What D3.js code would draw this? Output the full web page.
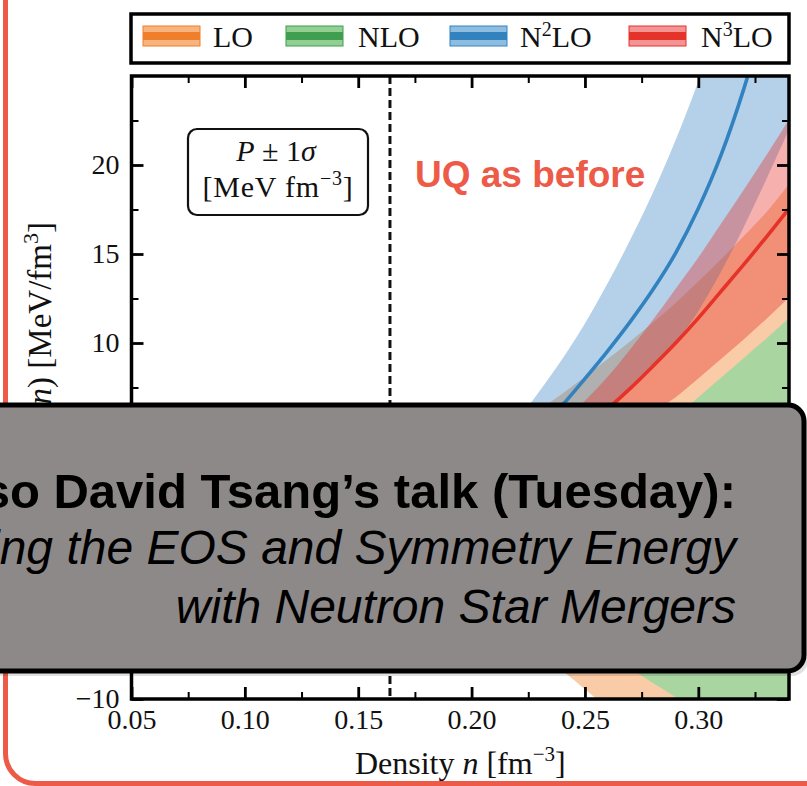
<!DOCTYPE html>
<html><head><meta charset="utf-8">
<script src="https://cdn.jsdelivr.net/npm/d3@7"></script>
<style>body{margin:0;background:#fff;} svg{display:block;}</style>
</head><body>
<svg id="chart" width="807" height="786"></svg>
<script>
// ---- data ----
const density = [0.05,0.06,0.07,0.08,0.09,0.10,0.11,0.12,0.13,0.14,0.15,0.16,0.17,0.18,0.19,0.20,0.21,0.22,0.23,0.24,0.25,0.26,0.27,0.28,0.29,0.30,0.31,0.32,0.33,0.34];
const loLower = [-0.22,-0.3,-0.38,-0.47,-0.55,-0.62,-0.7,-0.8,-0.95,-1.15,-1.45,-1.85,-2.35,-2.95,-3.65,-4.45,-5.35,-6.3,-7.35,-8.4,-9.45,-10.55,-11.7,-12.9,-14.1,-15.4,-16.7,-18.0,-19.4,-20.8];
const loMean  = [-0.16,-0.22,-0.28,-0.35,-0.4,-0.44,-0.45,-0.45,-0.43,-0.38,-0.35,-0.33,-0.3,-0.3,-0.33,-0.38,-0.43,-0.48,-0.55,-0.63,-0.68,-0.73,-0.8,-0.88,-0.93,-0.98,-1.0,-1.0,-1.03,-0.93];
const loUpper = [-0.1,-0.13,-0.18,-0.22,-0.25,-0.25,-0.2,-0.1,0.1,0.4,0.75,1.2,1.75,2.35,3.0,3.7,4.5,5.35,6.25,7.15,8.1,9.1,10.1,11.15,12.25,13.45,14.7,16.0,17.35,18.95];
const nloLower = [-0.3,-0.42,-0.55,-0.7,-0.85,-1.0,-1.15,-1.35,-1.55,-1.8,-2.05,-2.35,-2.7,-3.1,-3.5,-3.95,-4.45,-5.0,-5.6,-6.2,-6.85,-7.55,-8.3,-9.1,-9.9,-10.75,-11.6,-12.5,-13.4,-14.3];
const nloMean  = [-0.2,-0.28,-0.36,-0.46,-0.56,-0.65,-0.75,-0.87,-0.99,-1.13,-1.25,-1.4,-1.55,-1.7,-1.83,-1.95,-2.05,-2.15,-2.23,-2.25,-2.25,-2.23,-2.18,-2.13,-2.03,-1.9,-1.78,-1.68,-1.58,-1.45];
const nloUpper = [-0.1,-0.14,-0.18,-0.22,-0.26,-0.3,-0.34,-0.38,-0.42,-0.45,-0.45,-0.45,-0.4,-0.3,-0.15,0.05,0.35,0.7,1.15,1.7,2.35,3.1,3.95,4.85,5.85,6.95,8.05,9.15,10.25,11.4];
const n2loLower = [-0.3,-0.38,-0.47,-0.55,-0.62,-0.67,-0.69,-0.67,-0.62,-0.52,-0.35,-0.15,0.15,0.5,0.95,1.5,2.1,2.8,3.6,4.4,5.3,6.3,7.4,8.6,10.0,11.8,14.0,16.5,19.2,22.0];
const n2loMean  = [-0.25,-0.32,-0.4,-0.47,-0.53,-0.57,-0.58,-0.55,-0.48,-0.35,-0.15,0.1,0.45,0.9,1.45,2.15,3.0,4.0,5.15,6.5,8.0,9.55,11.2,13.0,15.05,17.55,20.55,24.25,28.65,33.65];
const n2loUpper = [-0.2,-0.26,-0.33,-0.39,-0.44,-0.47,-0.47,-0.43,-0.34,-0.18,0.05,0.35,0.75,1.3,1.95,2.85,4.1,5.6,7.3,9.1,11.1,13.35,15.8,18.45,21.4,24.7,28.5,32.5,37.0,42.0];
const n3loLower = [-0.32,-0.41,-0.51,-0.6,-0.67,-0.72,-0.75,-0.74,-0.68,-0.58,-0.43,-0.3,-0.15,0.1,0.4,0.8,1.2,1.7,2.3,3.0,3.75,4.5,5.25,6.1,6.95,8.0,9.1,10.2,11.35,12.55];
const n3loMean  = [-0.27,-0.35,-0.44,-0.52,-0.58,-0.62,-0.63,-0.6,-0.52,-0.4,-0.22,0.0,0.25,0.6,1.0,1.5,2.05,2.7,3.45,4.3,5.25,6.3,7.45,8.7,10.0,11.4,12.9,14.4,15.95,17.55];
const n3loUpper = [-0.22,-0.29,-0.37,-0.44,-0.49,-0.52,-0.51,-0.46,-0.36,-0.22,-0.01,0.3,0.65,1.1,1.6,2.2,2.9,3.7,4.6,5.6,6.75,8.1,9.65,11.3,13.05,14.8,16.7,18.6,20.55,22.55];
const saturationDensity = 0.164;
const xMajorTicks = [0.05,0.10,0.15,0.20,0.25,0.30];
const xMinorTicks = [0.075,0.125,0.175,0.225,0.275,0.325];
const yMajorTicks = [-10,-5,0,5,10,15,20];
const yMinorTicks = [-7.5,-2.5,2.5,7.5,12.5,17.5,22.5];
const orderNames = ["LO","NLO","N2LO","N3LO"];

// ---- styles ----
const lineColors  = {LO:"#ef7f2a", NLO:"#3f9e4f", N2LO:"#3282c0", N3LO:"#e5332a"};
const bandFill    = {LO:"#f9cba7", NLO:"#a9d5a1", N2LO:"#2f7fc1", N3LO:"#e8302a"};
const bandOpacity = {LO:1, NLO:1, N2LO:0.36, N3LO:0.38};
const patchLight  = {LO:"#f8b47e", NLO:"#93cf93", N2LO:"#8fbde0", N3LO:"#f39393"};
const series = {
  LO:{lo:loLower, mid:loMean, hi:loUpper},
  NLO:{lo:nloLower, mid:nloMean, hi:nloUpper},
  N2LO:{lo:n2loLower, mid:n2loMean, hi:n2loUpper},
  N3LO:{lo:n3loLower, mid:n3loMean, hi:n3loUpper}
};

const svg = d3.select("#chart");
const L = 131.5, R = 789, T = 76, B = 699;
const x = d3.scaleLinear().domain([0.05,0.34]).range([L,R]);
const y = d3.scaleLinear().domain([-10,25]).range([B,T]);
const serif = "'Liberation Serif','Times New Roman',serif";
const sans = "'Liberation Sans',Arial,sans-serif";

// page frame
svg.append("rect").attr("x",5.5).attr("y",-60).attr("width",900).attr("height",843.5)
  .attr("rx",30).attr("fill","none").attr("stroke","#ee5a48").attr("stroke-width",5);

// legend
const lg = svg.append("g");
lg.append("rect").attr("x",131).attr("y",14).attr("width",658).attr("height",49)
  .attr("fill","#fff").attr("stroke","#000").attr("stroke-width",3.5);
const patchX = [143,286,450,629];
const textX = [213,358,520,701];
orderNames.forEach((k,i)=>{
  lg.append("rect").attr("x",patchX[i]).attr("y",26).attr("width",57).attr("height",20)
    .attr("fill",patchLight[k]).attr("stroke",lineColors[k]).attr("stroke-width",1);
  lg.append("rect").attr("x",patchX[i]).attr("y",32).attr("width",57).attr("height",8)
    .attr("fill",lineColors[k]);
  const t = lg.append("text").attr("x",textX[i]).attr("y",47)
    .attr("font-family",serif).attr("font-size",30).attr("fill","#111");
  if (k==="N2LO"||k==="N3LO"){
    t.append("tspan").text("N");
    t.append("tspan").attr("dy",-11).attr("font-size",20).text(k==="N2LO"?"2":"3");
    t.append("tspan").attr("dy",11).text("LO");
  } else t.text(k);
});

// plot area
svg.append("rect").attr("x",L).attr("y",T).attr("width",R-L).attr("height",B-T).attr("fill","#fff");
svg.append("clipPath").attr("id","clip").append("rect")
  .attr("x",L).attr("y",T).attr("width",R-L).attr("height",B-T);
const plot = svg.append("g").attr("clip-path","url(#clip)");

orderNames.forEach(k=>{
  const s = series[k];
  const area = d3.area().curve(d3.curveMonotoneX)
    .x((d,i)=>x(density[i])).y0((d,i)=>y(s.lo[i])).y1((d,i)=>y(s.hi[i]));
  plot.append("path").datum(density).attr("d",area)
    .attr("fill",bandFill[k]).attr("fill-opacity",bandOpacity[k]);
});
orderNames.forEach(k=>{
  const s = series[k];
  const line = d3.line().curve(d3.curveMonotoneX)
    .x((d,i)=>x(density[i])).y((d,i)=>y(s.mid[i]));
  plot.append("path").datum(density).attr("d",line)
    .attr("fill","none").attr("stroke",lineColors[k]).attr("stroke-width",3.6);
});
// saturation density
plot.append("line").attr("x1",x(saturationDensity)).attr("x2",x(saturationDensity))
  .attr("y1",T).attr("y2",B).attr("stroke","#111").attr("stroke-width",3)
  .attr("stroke-dasharray","8,4");

// axes
function styleAxis(g, w){ g.select(".domain").remove(); g.selectAll(".tick line").attr("stroke","#000").attr("stroke-width",w); }
const gx = svg.append("g").attr("transform",`translate(0,${B})`)
  .call(d3.axisBottom(x).tickValues(xMajorTicks).tickSize(-12).tickPadding(10).tickFormat(d3.format(".2f")));
styleAxis(gx,2.8);
gx.selectAll("text").attr("font-family",serif).attr("font-size",28).attr("fill","#111");
styleAxis(svg.append("g").attr("transform",`translate(0,${B})`)
  .call(d3.axisBottom(x).tickValues(xMinorTicks).tickSize(-7).tickFormat("")),2);
styleAxis(svg.append("g").attr("transform",`translate(0,${T})`)
  .call(d3.axisTop(x).tickValues(xMajorTicks).tickSize(-12).tickFormat("")),2.8);
styleAxis(svg.append("g").attr("transform",`translate(0,${T})`)
  .call(d3.axisTop(x).tickValues(xMinorTicks).tickSize(-7).tickFormat("")),2);
const gy = svg.append("g").attr("transform",`translate(${L},0)`)
  .call(d3.axisLeft(y).tickValues(yMajorTicks).tickSize(-12).tickPadding(12).tickFormat(d3.format("d")));
styleAxis(gy,2.8);
gy.selectAll("text").attr("font-family",serif).attr("font-size",28).attr("fill","#111");
styleAxis(svg.append("g").attr("transform",`translate(${L},0)`)
  .call(d3.axisLeft(y).tickValues(yMinorTicks).tickSize(-7).tickFormat("")),2);
styleAxis(svg.append("g").attr("transform",`translate(${R},0)`)
  .call(d3.axisRight(y).tickValues(yMajorTicks).tickSize(-12).tickFormat("")),2.8);
styleAxis(svg.append("g").attr("transform",`translate(${R},0)`)
  .call(d3.axisRight(y).tickValues(yMinorTicks).tickSize(-7).tickFormat("")),2);
svg.append("rect").attr("x",L).attr("y",T).attr("width",R-L).attr("height",B-T)
  .attr("fill","none").attr("stroke","#000").attr("stroke-width",3.5);

// axis labels
const xl = svg.append("text").attr("x",(L+R)/2).attr("y",774).attr("text-anchor","middle")
  .attr("font-family",serif).attr("font-size",32).attr("fill","#111");
xl.append("tspan").text("Density ");
xl.append("tspan").attr("font-style","italic").text("n");
xl.append("tspan").text(" [fm");
xl.append("tspan").attr("dy",-13).attr("font-size",21).text("−3");
xl.append("tspan").attr("dy",13).text("]");

const yl = svg.append("text").attr("transform","translate(51,222) rotate(-90)").attr("text-anchor","end")
  .attr("font-family",serif).attr("font-size",33).attr("fill","#111");
yl.append("tspan").text("Pressure ");
yl.append("tspan").attr("font-style","italic").text("P");
yl.append("tspan").text("(");
yl.append("tspan").attr("font-style","italic").text("n");
yl.append("tspan").text(") [MeV/fm");
yl.append("tspan").attr("dy",-13).attr("font-size",22).text("3");
yl.append("tspan").attr("dy",13).text("]");

// annotation box
svg.append("rect").attr("x",188).attr("y",129).attr("width",180).attr("height",86).attr("rx",9)
  .attr("fill","#fff").attr("stroke","#111").attr("stroke-width",2.2);
const b1 = svg.append("text").attr("x",276).attr("y",161).attr("text-anchor","middle")
  .attr("font-family",serif).attr("font-size",30).attr("fill","#111");
b1.append("tspan").attr("font-style","italic").text("P");
b1.append("tspan").text(" ± 1");
b1.append("tspan").attr("font-style","italic").text("σ");
const b2 = svg.append("text").attr("x",278).attr("y",197).attr("text-anchor","middle")
  .attr("font-family",serif).attr("font-size",30).attr("fill","#111").attr("letter-spacing",0.8);
b2.append("tspan").text("[MeV fm");
b2.append("tspan").attr("dy",-12).attr("font-size",20).text("−3");
b2.append("tspan").attr("dy",12).text("]");

svg.append("text").attr("x",415).attr("y",187).attr("font-family",sans).attr("font-weight","bold")
  .attr("font-size",37).attr("fill","#ee5a48").text("UQ as before");

// overlay callout
const ov = svg.append("g");
ov.append("rect").attr("x",-20).attr("y",409).attr("width",828).attr("height",267).attr("rx",16)
  .attr("fill","#000").attr("opacity",0.12);
ov.append("rect").attr("x",-20).attr("y",405).attr("width",824).attr("height",266).attr("rx",16)
  .attr("fill","#8d8989").attr("stroke","#000").attr("stroke-width",5);
ov.append("text").attr("x",736).attr("y",508).attr("text-anchor","end").attr("font-family",sans)
  .attr("font-weight","bold").attr("font-size",49).attr("fill","#000").text("See also David Tsang’s talk (Tuesday):");
ov.append("text").attr("x",736).attr("y",564).attr("text-anchor","end").attr("font-family",sans)
  .attr("font-style","italic").attr("font-size",48).attr("fill","#000").text("Constraining the EOS and Symmetry Energy");
ov.append("text").attr("x",736).attr("y",623).attr("text-anchor","end").attr("font-family",sans)
  .attr("font-style","italic").attr("font-size",48).attr("fill","#000").text("with Neutron Star Mergers");
</script>
</body></html>
